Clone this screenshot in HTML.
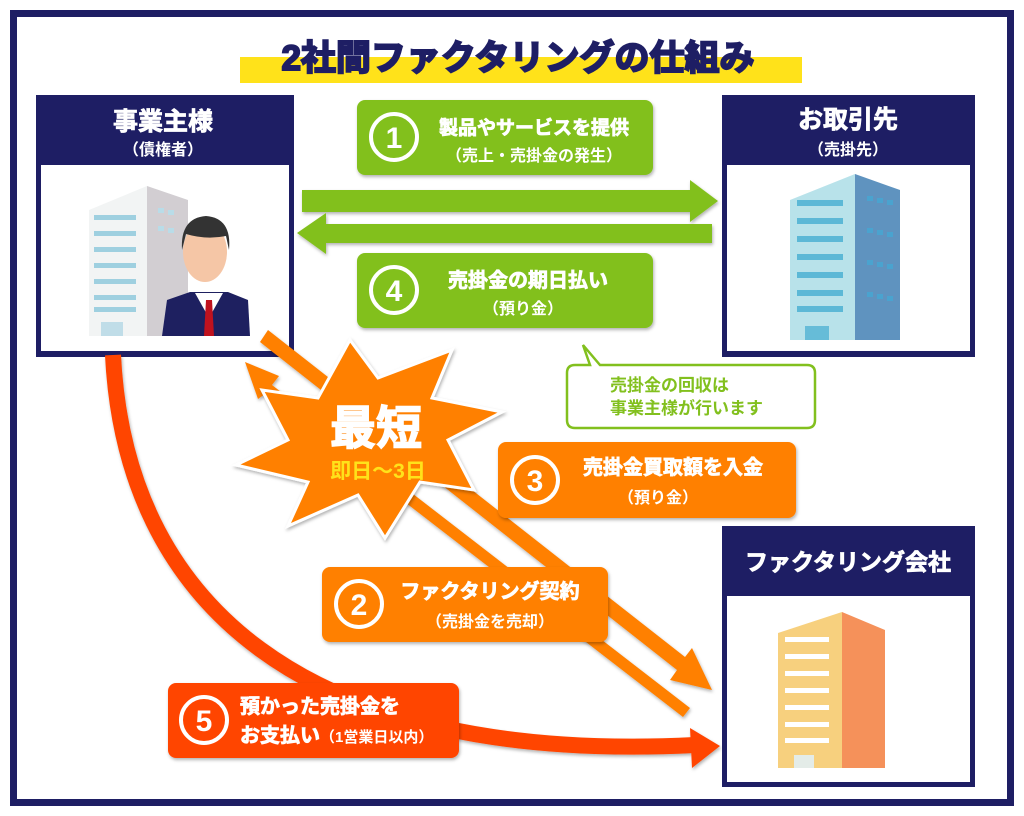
<!DOCTYPE html>
<html><head><meta charset="utf-8"><style>
body{margin:0;background:#fff}
svg{display:block}
text{font-family:"Liberation Sans","Noto Sans CJK JP",sans-serif;font-weight:bold}
.b{stroke-width:0.8;paint-order:stroke}
</style></head><body>
<svg width="1024" height="816" viewBox="0 0 1024 816" xmlns="http://www.w3.org/2000/svg">
<defs>
<filter id="sh" x="-10%" y="-10%" width="120%" height="130%"><feDropShadow dx="1" dy="2" stdDeviation="1.5" flood-color="#000" flood-opacity="0.3"/></filter>
</defs>
<rect x="0" y="0" width="1024" height="816" fill="#fff"/>
<rect x="13.5" y="13.5" width="997" height="789" fill="none" stroke="#1e1e64" stroke-width="7"/>
<!-- title -->
<rect x="240" y="57" width="562" height="26" fill="#ffe21a"/>
<text x="518" y="70" font-size="35" fill="#1e1e64" stroke="#1e1e64" stroke-width="2" text-anchor="middle">2社間ファクタリングの仕組み</text>

<!-- left box -->
<rect x="36" y="95" width="258" height="262" fill="#1e1e64"/>
<rect x="41" y="165" width="248" height="186" fill="#fff"/>
<text x="163" y="130" font-size="25" fill="#fff" stroke="#fff" class="b" text-anchor="middle">事業主様</text>
<text x="163" y="155" font-size="16" fill="#fff" text-anchor="middle">（債権者）</text>
<polygon points="89,210 147,186 147,336 89,336" fill="#f2f4f4"/>
<polygon points="147,186 188,200 188,336 147,336" fill="#d2ced2"/>
<g fill="#9fd0e0"><rect x="94" y="215" width="42" height="5"/><rect x="94" y="231" width="42" height="5"/><rect x="94" y="247" width="42" height="5"/><rect x="94" y="263" width="42" height="5"/><rect x="94" y="279" width="42" height="5"/><rect x="94" y="295" width="42" height="5"/><rect x="94" y="307" width="42" height="5"/></g>
<g fill="#b9dce8"><rect x="158" y="208" width="6" height="5"/><rect x="168" y="210" width="6" height="5"/><rect x="158" y="226" width="6" height="5"/><rect x="168" y="228" width="6" height="5"/></g>
<rect x="101" y="322" width="22" height="14" fill="#c0dde8"/>
<path d="M162,336 L167,300 L190,292 L228,292 L248,300 L250,336 Z" fill="#1e2060"/>
<polygon points="195,293 223,293 209,318" fill="#fff"/>
<polygon points="206,300 212,300 214,336 204,336" fill="#c0121e"/>
<ellipse cx="205" cy="252" rx="22" ry="30" fill="#f5c6a6"/>
<path d="M182,250 Q180,218 206,216 Q232,218 229,250 L226,236 Q206,240 186,234 Z" fill="#333"/>

<!-- right box -->
<rect x="722" y="95" width="253" height="262" fill="#1e1e64"/>
<rect x="727" y="165" width="243" height="186" fill="#fff"/>
<text x="848" y="128" font-size="25" fill="#fff" stroke="#fff" class="b" text-anchor="middle">お取引先</text>
<text x="848" y="155" font-size="16" fill="#fff" text-anchor="middle">（売掛先）</text>
<polygon points="790,200 855,174 855,340 790,340" fill="#b8e2ea"/>
<polygon points="855,174 900,190 900,340 855,340" fill="#5f93bf"/>
<g fill="#5cb8d6"><rect x="797" y="200" width="46" height="6"/><rect x="797" y="218" width="46" height="6"/><rect x="797" y="236" width="46" height="6"/><rect x="797" y="254" width="46" height="6"/><rect x="797" y="272" width="46" height="6"/><rect x="797" y="290" width="46" height="6"/><rect x="797" y="306" width="46" height="6"/></g>
<g fill="#4aa3cf"><rect x="867" y="196" width="6" height="5"/><rect x="877" y="198" width="6" height="5"/><rect x="887" y="200" width="6" height="5"/><rect x="867" y="228" width="6" height="5"/><rect x="877" y="230" width="6" height="5"/><rect x="887" y="232" width="6" height="5"/><rect x="867" y="260" width="6" height="5"/><rect x="877" y="262" width="6" height="5"/><rect x="887" y="264" width="6" height="5"/><rect x="867" y="292" width="6" height="5"/><rect x="877" y="294" width="6" height="5"/><rect x="887" y="296" width="6" height="5"/></g>
<rect x="805" y="326" width="24" height="14" fill="#66bcd8"/>

<!-- factoring box -->
<rect x="722" y="526" width="253" height="261" fill="#1e1e64"/>
<rect x="727" y="596" width="243" height="186" fill="#fff"/>
<text x="848" y="570" font-size="23" fill="#fff" stroke="#fff" class="b" text-anchor="middle">ファクタリング会社</text>
<polygon points="778,633 842,612 842,768 778,768" fill="#f7d07e"/>
<polygon points="842,612 885,630 885,768 842,768" fill="#f5915a"/>
<g fill="#fff"><rect x="785" y="637" width="44" height="5"/><rect x="785" y="654" width="44" height="5"/><rect x="785" y="671" width="44" height="5"/><rect x="785" y="688" width="44" height="5"/><rect x="785" y="705" width="44" height="5"/><rect x="785" y="722" width="44" height="5"/><rect x="785" y="738" width="44" height="5"/></g>
<rect x="794" y="755" width="20" height="13" fill="#e4ece8"/>

<!-- green arrows -->
<g filter="url(#sh)">
<polygon points="302,190 690,190 690,180 718,201 690,222 690,212 302,212" fill="#82c01e"/>
<polygon points="712,224 326,224 326,213 297,233 326,254 326,243 712,243" fill="#82c01e"/>
<rect x="357" y="100" width="296" height="75" rx="8" fill="#82c01e"/>
<rect x="357" y="253" width="296" height="75" rx="8" fill="#82c01e"/>
</g>
<circle cx="394" cy="137" r="23" fill="none" stroke="#fff" stroke-width="4"/>
<text x="394" y="148" font-size="30" fill="#fff" text-anchor="middle">1</text>
<text x="534" y="134" font-size="19" fill="#fff" stroke="#fff" class="b" text-anchor="middle">製品やサービスを提供</text>
<text x="534" y="161" font-size="16" fill="#fff" text-anchor="middle">（売上・売掛金の発生）</text>
<circle cx="394" cy="290" r="23" fill="none" stroke="#fff" stroke-width="4"/>
<text x="394" y="301" font-size="30" fill="#fff" text-anchor="middle">4</text>
<text x="528" y="287" font-size="20" fill="#fff" stroke="#fff" class="b" text-anchor="middle">売掛金の期日払い</text>
<text x="523" y="314" font-size="16" fill="#fff" text-anchor="middle">（預り金）</text>

<!-- callout -->
<path d="M575,365 L590,365 L583,345 L600,365 L807,365 Q815,365 815,373 L815,420 Q815,428 807,428 L575,428 Q567,428 567,420 L567,373 Q567,365 575,365 Z" fill="#fff" stroke="#82c01e" stroke-width="2.5"/>
<text x="610" y="391" font-size="17" fill="#82c01e">売掛金の回収は</text>
<text x="610" y="414" font-size="17" fill="#82c01e">事業主様が行います</text>

<!-- red curve -->
<g filter="url(#sh)">
<path d="M113,355 C125,600 300,765 695,745" fill="none" stroke="#ff4500" stroke-width="16"/>
<polygon points="690,728 720,746 692,768" fill="#ff4500"/>
<polygon points="268,330 685,657 692,648 712,690 670,680 677,670 260,342" fill="#ff8000"/>
<polygon points="690,708 272,385 279,376 245,362 258,399 265,394 683,717" fill="#ff8000"/>
</g>

<!-- starburst -->
<polygon points="350,340 378,378 452,350 432,398 502,412 448,440 474,490 420,482 385,538 358,495 288,526 308,482 236,465 288,440 262,390 318,398" fill="#ff8000" stroke="#fff" stroke-width="3" filter="url(#sh)"/>
<text x="376" y="444" font-size="46" fill="#fff" stroke="#fff" stroke-width="1.5" text-anchor="middle">最短</text>
<text x="378" y="478" font-size="21" fill="#ffe21a" text-anchor="middle">即日〜3日</text>

<!-- orange boxes -->
<g filter="url(#sh)">
<rect x="498" y="442" width="298" height="76" rx="8" fill="#ff8000"/>
<rect x="322" y="567" width="286" height="75" rx="8" fill="#ff8000"/>
<rect x="168" y="683" width="291" height="75" rx="8" fill="#ff4500"/>
</g>
<circle cx="535" cy="480" r="23" fill="none" stroke="#fff" stroke-width="4"/>
<text x="535" y="491" font-size="30" fill="#fff" text-anchor="middle">3</text>
<text x="673" y="474" font-size="20" fill="#fff" stroke="#fff" class="b" text-anchor="middle">売掛金買取額を入金</text>
<text x="658" y="503" font-size="16" fill="#fff" text-anchor="middle">（預り金）</text>
<circle cx="359" cy="604" r="23" fill="none" stroke="#fff" stroke-width="4"/>
<text x="490" y="598" font-size="20" fill="#fff" stroke="#fff" class="b" text-anchor="middle">ファクタリング契約</text>
<text x="359" y="615" font-size="30" fill="#fff" text-anchor="middle">2</text>
<text x="490" y="627" font-size="16" fill="#fff" text-anchor="middle">（売掛金を売却）</text>
<circle cx="204" cy="720" r="23" fill="none" stroke="#fff" stroke-width="4"/>
<text x="204" y="731" font-size="30" fill="#fff" text-anchor="middle">5</text>
<text x="240" y="713" font-size="20" fill="#fff" stroke="#fff" class="b">預かった売掛金を</text>
<text x="240" y="742" font-size="20" fill="#fff" stroke="#fff" class="b">お支払い<tspan font-size="15" stroke-width="0">（1営業日以内）</tspan></text>
</svg>
</body></html>
